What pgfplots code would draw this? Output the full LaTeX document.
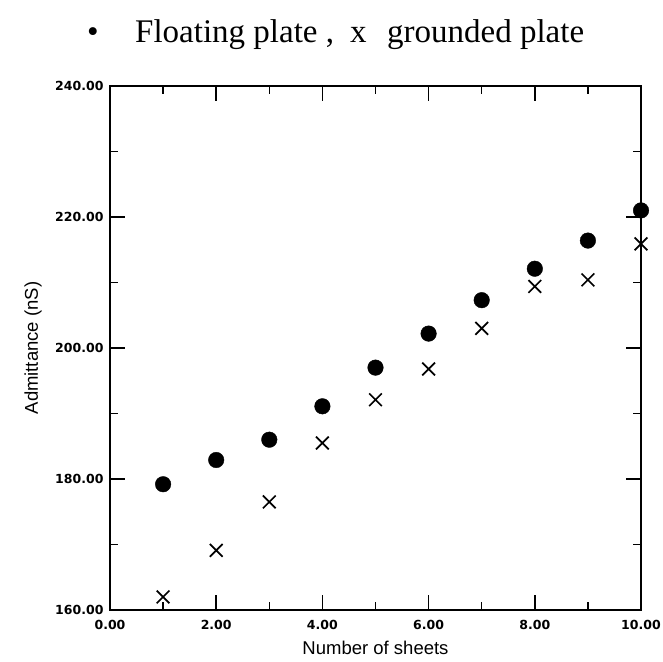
\documentclass[border=0pt]{standalone}
\usepackage{fontspec}
\setmainfont{Liberation Serif}
\newfontfamily\axfont{Liberation Sans}
\newfontfamily\tickfont{DejaVu Sans}
\usepackage{pgfplots}
\pgfplotsset{compat=1.18}
\begin{document}
\begin{tikzpicture}[x=1bp,y=1bp]
\begin{axis}[
  at={(0,0)}, anchor=south west,
  scale only axis, width=531bp, height=524bp,
  xmin=0, xmax=10, ymin=160, ymax=240,
  xtick={0,2,...,10}, ytick={160,180,...,240},
  minor x tick num=1, minor y tick num=1,
  tick align=inside,
  major tick length=15bp, minor tick length=8bp,
  axis line style={line width=1.5bp},
  every tick/.style={line width=1.5bp, black},
  /pgf/number format/assume math mode=true,
  xticklabel style={font=\tickfont\bfseries\fontsize{12.5bp}{14bp}\selectfont, yshift=-7bp, /pgf/number format/.cd, fixed, fixed zerofill, precision=2},
  yticklabel style={font=\tickfont\bfseries\fontsize{12.5bp}{14bp}\selectfont, xshift=-3bp, /pgf/number format/.cd, fixed, fixed zerofill, precision=2},
  xlabel={Number of sheets},
  ylabel={Admittance (nS)},
  xlabel style={font=\axfont\fontsize{18.5bp}{20bp}\selectfont, at={(axis description cs:0.5,-0.0725)}, anchor=center},
  ylabel style={font=\axfont\fontsize{18.5bp}{20bp}\selectfont, at={(axis description cs:-0.145,0.5)}, anchor=center, rotate=0},
  clip=false,
]
\addplot[only marks, mark=*, mark size=7.8bp, black] coordinates {
 (1,179.2)(2,182.9)(3,186.0)(4,191.1)(5,197.0)(6,202.2)(7,207.3)(8,212.1)(9,216.4)(10,221.0)
};
\addplot[only marks, mark=x, mark size=9bp, black, mark options={line width=1.7bp}] coordinates {
 (1,162.0)(2,169.1)(3,176.5)(4,185.5)(5,192.1)(6,196.8)(7,203.0)(8,209.4)(9,210.4)(10,215.9)
};
\end{axis}
\node[anchor=base, font=\fontsize{33bp}{36bp}\selectfont] at (-17,567) {\textbullet};
\node[anchor=base west, inner sep=0pt, font=\fontsize{33bp}{36bp}\selectfont] at (25,567) {Floating plate ,};
\node[anchor=base west, inner sep=0pt, font=\fontsize{33bp}{36bp}\selectfont] at (240,567) {x};
\node[anchor=base west, inner sep=0pt, font=\fontsize{33bp}{36bp}\selectfont] at (277,567) {grounded plate};
\pgfresetboundingbox
\path (-110,-52) rectangle (552,610);
\end{tikzpicture}
\end{document}
